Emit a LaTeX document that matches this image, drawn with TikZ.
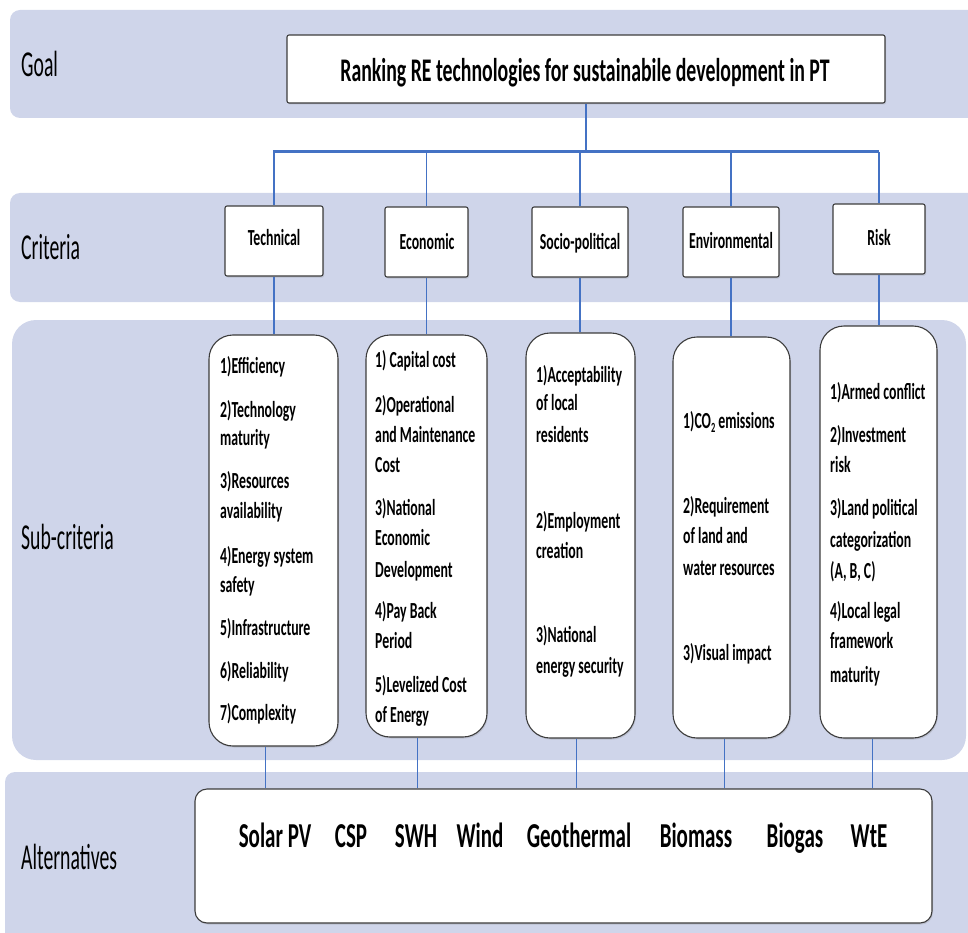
\documentclass[tikz,border=0pt]{standalone}
\usepackage{fontspec}
\setmainfont{Carlito}[FakeStretch=0.6]
\newfontfamily\labfont{Carlito}[FakeStretch=0.54]
\usetikzlibrary{shadows}
\definecolor{bandc}{RGB}{207,213,234}
\definecolor{connc}{RGB}{68,114,196}
\definecolor{edgec}{RGB}{60,60,60}
\begin{document}
\begin{tikzpicture}[x=1pt,y=-1pt,
  bandbox/.style={fill=bandc,draw=none},
  shad/.style={drop shadow={opacity=0.25,shadow xshift=1pt,shadow yshift=-1.5pt}},
  gbox/.style={draw=edgec,fill=white,line width=1.1pt,rounded corners=2pt,shad,inner sep=0pt},
  subbox/.style={draw=edgec,fill=white,line width=1.1pt,rounded corners=24pt,shad,inner sep=0pt},
  altbox/.style={draw=edgec,fill=white,line width=1.1pt,rounded corners=12pt,shad,inner sep=0pt},
  conn/.style={draw=connc,line width=1.3pt},
  lab/.style={anchor=base west,inner sep=0pt,font=\labfont\fontsize{36.5}{39}\selectfont},
  ttl/.style={anchor=base,inner sep=0pt,font=\bfseries\fontsize{33}{36}\selectfont},
  crit/.style={anchor=base,inner sep=0pt,font=\bfseries\fontsize{23}{25}\selectfont},
  subt/.style={anchor=base west,inner sep=0pt,font=\bfseries\fontsize{23}{25}\selectfont},
  altt/.style={anchor=base,inner sep=0pt,font=\bfseries\fontsize{35}{38}\selectfont}]
\useasboundingbox (0,0) rectangle (968,933);
% bands
\fill[bandbox,rounded corners=10pt] (10,10) rectangle (990,118);
\fill[bandbox,rounded corners=10pt] (10,193) rectangle (990,302);
\fill[bandbox,rounded corners=24pt] (12,320) rectangle (966,760);
\fill[bandbox,rounded corners=10pt] (5,772) rectangle (990,950);
% labels
\node[lab] (lgoal) at (21,77) {Goal};
\node[lab] (lcrit) at (21,259) {Criteria};
\node[lab] (lsub) at (21,549) {Sub-criteria};
\node[lab] (lalt) at (21,869) {Alternatives};
% goal
\node[gbox,minimum width=598pt,minimum height=68pt] (goal) at (586,69) {};
\node[ttl] (goalt) at (585,82) {Ranking RE technologies for sustainabile development in PT};
% criteria boxes
\node[gbox,minimum width=98pt,minimum height=70pt] (tech) at (274,241) {};
\node[gbox,minimum width=83pt,minimum height=70pt] (econ) at (426.5,242) {};
\node[gbox,minimum width=96pt,minimum height=70pt] (soc) at (580,242) {};
\node[gbox,minimum width=96pt,minimum height=70pt] (env) at (731,242) {};
\node[gbox,minimum width=92pt,minimum height=70pt] (risk) at (879,239) {};
\node[crit] (techt) at (274,245) {Technical};
\node[crit] (econt) at (427,250) {Economic};
\node[crit] (soct) at (580,250) {Socio-political};
\node[crit] (envt) at (731,248) {Environmental};
\node[crit] (riskt) at (879,246) {Risk};
% sub boxes
\node[subbox,minimum width=129pt,minimum height=411pt] (stech) at (273.5,540.5) {};
\node[subbox,minimum width=121pt,minimum height=402pt] (secon) at (426.5,536) {};
\node[subbox,minimum width=109pt,minimum height=405pt] (ssoc) at (580.5,535.5) {};
\node[subbox,minimum width=117pt,minimum height=401pt] (senv) at (731.5,537.5) {};
\node[subbox,minimum width=117pt,minimum height=412pt] (srisk) at (878.5,532) {};
% alternatives box
\node[altbox,minimum width=737pt,minimum height=134pt] (alt) at (563.5,856) {};
% connectors
\coordinate (bar) at (586,152);
\draw[conn] (goal.south) -- (bar);
\draw[conn,line width=3pt] ([xshift=-1pt]tech.north |- bar) -- (risk.north |- bar);
\foreach \c/\s in {tech/stech,econ/secon,soc/ssoc,env/senv,risk/srisk}{
  \draw[conn] (\c.north |- bar) -- (\c.north);
  \draw[conn] (\c.south) -- (\c.south |- \s.north);
}
\draw[conn] ([xshift=-8pt]stech.south) -- ([xshift=-8pt]stech.south |- alt.north);
\draw[conn] ([xshift=-9pt]secon.south) -- ([xshift=-9pt]secon.south |- alt.north);
\draw[conn] ([xshift=-4pt]ssoc.south) -- ([xshift=-4pt]ssoc.south |- alt.north);
\draw[conn] ([xshift=-7pt]senv.south) -- ([xshift=-7pt]senv.south |- alt.north);
\draw[conn] ([xshift=-6pt]srisk.south) -- ([xshift=-6pt]srisk.south |- alt.north);
% sub-criteria texts
\foreach \y/\txt [count=\i] in {373/{1)Efficiency},417/{2)Technology},445/{maturity},488/{3)Resources},518/{availability},563/{4)Energy system},592/{safety},635/{5)Infrastructure},678/{6)Reliability},720/{7)Complexity}}
  \node[subt,name=ta\i] at (220,\y) {\txt};
\foreach \y/\txt [count=\i] in {367/{1) Capital cost},412/{2)Operational},442/{and Maintenance},472/{Cost},515/{3)National},545/{Economic},577/{Development},618/{4)Pay Back},648/{Period},692/{5)Levelized Cost},722/{of Energy}}
  \node[subt,name=tb\i] at (375,\y) {\txt};
\foreach \y/\txt [count=\i] in {382/{1)Acceptability},410/{of local},442/{residents},528/{2)Employment},558/{creation},642/{3)National},673/{energy security}}
  \node[subt,name=tc\i] at (536,\y) {\txt};
\foreach \y/\txt [count=\i] in {428/{1)CO\raisebox{-4pt}{\fontsize{14}{14}\selectfont 2} emissions},513/{2)Requirement},543/{of land and},575/{water resources},660/{3)Visual impact}}
  \node[subt,name=td\i] at (683,\y) {\txt};
\foreach \y/\txt [count=\i] in {399/{1)Armed conflict},442/{2)Investment},472/{risk},515/{3)Land political},547/{categorization},578/{(A, B, C)},618/{4)Local legal},648/{framework},682/{maturity}}
  \node[subt,name=te\i] at (830,\y) {\txt};
% alternatives texts
\foreach \x/\txt [count=\i] in {275/{Solar PV},351/{CSP},416/{SWH},480/{Wind},579/{Geothermal},696/{Biomass},795/{Biogas},869/{WtE}}
  \node[altt,name=at\i] at (\x,847) {\txt};
\end{tikzpicture}
\end{document}
